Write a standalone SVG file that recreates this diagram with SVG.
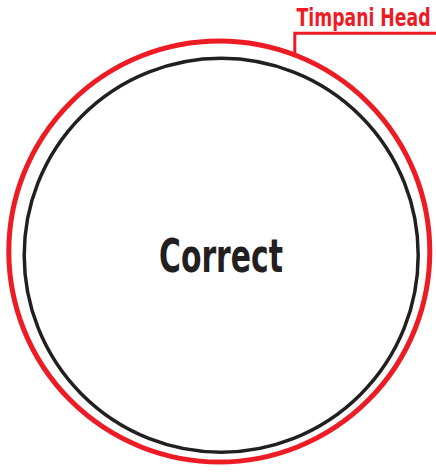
<svg xmlns="http://www.w3.org/2000/svg" width="436" height="473" viewBox="0 0 436 473">
<style>
.red{fill:none;stroke:#ed1c24;stroke-width:5}
.blk{fill:none;stroke:#231f20;stroke-width:3.5}
.lbl{font-family:"DejaVu Sans Condensed","DejaVu Sans",sans-serif;font-stretch:condensed;font-weight:bold}
</style>
<rect width="436" height="473" fill="#fff"/>
<g id="timpani-head">
<circle class="red" cx="219.3" cy="251.5" r="210.5"/>
</g>
<g id="inner">
<circle class="blk" cx="221.2" cy="255.2" r="197"/>
<text class="lbl" x="221" y="272" font-size="47" fill="#231f20" text-anchor="middle" textLength="124" lengthAdjust="spacingAndGlyphs">Correct</text>
</g>
<g id="connectors">
<polyline points="294.8,54 294.8,33.3 436,33.3" fill="none" stroke="#ed1c24" stroke-width="3"/>
</g>
<g id="label">
<text class="lbl" transform="translate(363.5,26) scale(1,1.35)" x="0" y="0" font-size="19" fill="#ed1c24" text-anchor="middle" textLength="134" lengthAdjust="spacingAndGlyphs">Timpani Head</text>
</g>
</svg>
